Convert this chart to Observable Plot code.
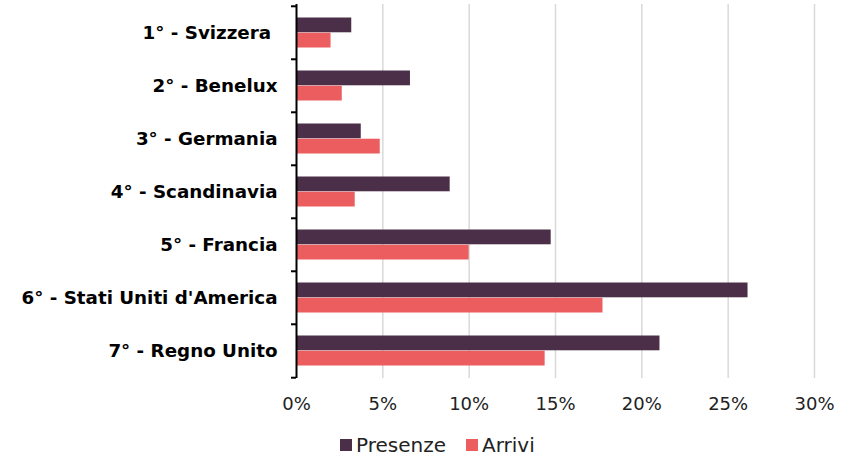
<!DOCTYPE html>
<html>
<head>
<meta charset="utf-8">
<script src="https://cdn.jsdelivr.net/npm/d3@7"></script>
<script src="https://cdn.jsdelivr.net/npm/@observablehq/plot@0.6"></script>
<style>
  html, body { margin: 0; padding: 0; background: #fff; }
  #wrap { position: relative; width: 851px; height: 459px; font-family: "DejaVu Sans", sans-serif; }
  #legend { position: absolute; left: 340px; top: 433px; display: flex; align-items: center; font-size: 20px; color: #222; white-space: nowrap; }
  #legend .sw { display: inline-block; width: 12px; height: 12px; margin-right: 4px; }
  #legend .item { display: flex; align-items: center; margin-right: 20px; }
</style>
</head>
<body>
<div id="wrap"><div id="chart"></div><div id="legend"></div></div>
<script>
const categories = ["1° - Svizzera\u00a0", "2° - Benelux", "3° - Germania", "4° - Scandinavia", "5° - Francia", "6° - Stati Uniti d'America", "7° - Regno Unito"];
const presenze = [3.2, 6.6, 3.75, 8.9, 14.75, 26.15, 21.05];
const arrivi = [2.0, 2.65, 4.85, 3.4, 10.0, 17.75, 14.4];
const seriesNames = ["Presenze", "Arrivi"];
const seriesColors = ["#4b2f48", "#eb5d5f"];
const xTicks = [0, 5, 10, 15, 20, 25, 30];

const width = 851, height = 430, marginTop = 4, marginBottom = 52, marginLeft = 296, marginRight = 37;
const bw = (height - marginTop - marginBottom) / categories.length;
const half = bw / 2;
const outer = 11.5;

const dataP = categories.map((c, i) => ({cat: c, value: presenze[i]}));
const dataA = categories.map((c, i) => ({cat: c, value: arrivi[i]}));

const chart = Plot.plot({
  width, height, marginTop, marginBottom, marginLeft, marginRight,
  style: {fontFamily: "DejaVu Sans, sans-serif", background: "#fff"},
  x: {domain: [0, 30], ticks: xTicks},
  y: {domain: categories, padding: 0},
  marks: [
    Plot.gridX(xTicks.filter(d => d > 0), {stroke: "#d9d9d9", strokeOpacity: 1, strokeWidth: 1.5}),
    Plot.barX(dataP, {x: "value", y: "cat", fill: seriesColors[0], insetTop: outer, insetBottom: half}),
    Plot.barX(dataA, {x: "value", y: "cat", fill: seriesColors[1], insetTop: half, insetBottom: outer}),
    Plot.ruleX([0], {stroke: "#000", strokeWidth: 2}),
    Plot.ruleY(categories, {y: d => d, x1: 0, x2: 0, insetLeft: -5, dy: -half, stroke: "#000", strokeWidth: 2}),
    Plot.ruleY(categories.slice(-1), {y: d => d, x1: 0, x2: 0, insetLeft: -5, dy: half, stroke: "#000", strokeWidth: 2}),
    Plot.axisX({ticks: xTicks, tickFormat: d => d + "%", tickSize: 0, tickPadding: 19, fontSize: 18, fill: "#222", label: null}),
    Plot.axisY({tickSize: 0, tickPadding: 19, fontSize: 18.3, fontWeight: "bold", fill: "#000", label: null})
  ]
});
document.getElementById("chart").appendChild(chart);

const legend = d3.select("#legend");
seriesNames.forEach((s, i) => {
  const item = legend.append("div").attr("class", "item");
  item.append("span").attr("class", "sw").style("background", seriesColors[i]);
  item.append("span").text(s);
});
</script>
</body>
</html>
